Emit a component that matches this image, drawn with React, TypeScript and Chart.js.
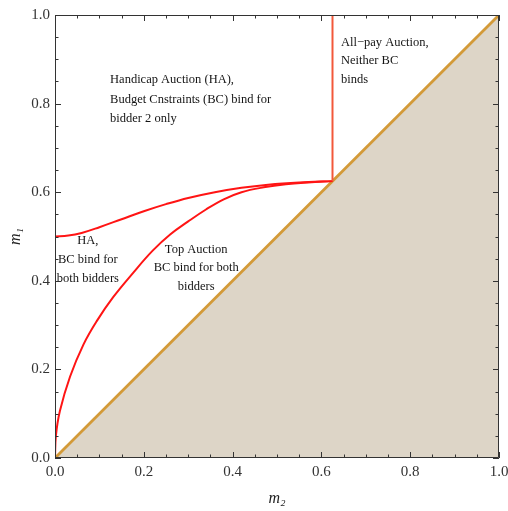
import React, { useEffect, useRef } from 'react';
import { Chart, registerables } from 'chart.js';

Chart.register(...registerables);

// ---- data (m2 on x, m1 on y) ----
const diagonalM2 = [0, 1];
const diagonalM1 = [0, 1];
const upperM2 = [0, 0.03, 0.06, 0.1, 0.15, 0.2, 0.25, 0.3, 0.36, 0.42, 0.48, 0.55, 0.625];
const upperM1 = [0.5, 0.502, 0.508, 0.521, 0.539, 0.557, 0.573, 0.587, 0.6, 0.61, 0.617, 0.622, 0.625];
const lowerM2 = [0, 0.002, 0.011, 0.034, 0.064, 0.094, 0.131, 0.176, 0.22, 0.26, 0.3, 0.34, 0.38, 0.42, 0.47, 0.52, 0.57, 0.625];
const lowerM1 = [0, 0.05, 0.106, 0.184, 0.256, 0.309, 0.363, 0.418, 0.468, 0.505, 0.534, 0.561, 0.584, 0.6, 0.611, 0.618, 0.622, 0.625];
const verticalM2 = [0.625, 0.625];
const verticalM1 = [0.625, 1];
const axisMin = 0;
const axisMax = 1;
const majorStep = 0.2;
const minorStep = 0.05;
const xTitle = 'm₂';
const yTitle = 'm₁';

const noteHandicap = ['Handicap Auction (HA),', 'Budget Cnstraints (BC) bind for', 'bidder 2 only'];
const noteHA = ['HA,', 'BC bind for', 'both bidders'];
const noteTop = ['Top Auction', 'BC bind for both', 'bidders'];
const noteAllPay = ['All−pay Auction,', 'Neither BC', 'binds'];

const notes = [
  { lines: noteHandicap, m2: 0.124, m1: 0.853, align: 'left', spacing: 19.5 },
  { lines: noteHA, m2: 0.074, m1: 0.49, align: 'center', spacing: 19 },
  { lines: noteTop, m2: 0.318, m1: 0.471, align: 'center', spacing: 18.5 },
  { lines: noteAllPay, m2: 0.644, m1: 0.9375, align: 'left', spacing: 18.5 },
];

const zip = (xs: number[], ys: number[]) => xs.map((x, i) => ({ x, y: ys[i] }));

const SERIF = '"Liberation Serif", "Times New Roman", serif';

const framePlugin = {
  id: 'frameTicks',
  afterDatasetsDraw(chart: any) {
    const { ctx, scales } = chart;
    const x = scales.x;
    const y = scales.y;
    ctx.save();
    ctx.font = `12.5px ${SERIF}`;
    ctx.fillStyle = '#141414';
    ctx.textBaseline = 'middle';
    for (const n of notes) {
      ctx.textAlign = n.align as CanvasTextAlign;
      const px = x.getPixelForValue(n.m2);
      const py = y.getPixelForValue(n.m1);
      n.lines.forEach((t, i) => ctx.fillText(t, px, py + i * n.spacing));
    }
    ctx.restore();
  },
  afterDraw(chart: any) {
    const { ctx, chartArea: a, scales } = chart;
    const x = scales.x;
    const y = scales.y;
    ctx.save();
    ctx.strokeStyle = '#333';
    ctx.lineWidth = 1;
    ctx.beginPath();
    ctx.rect(Math.round(a.left) + 0.5, Math.round(a.top) + 0.5, Math.round(a.right - a.left) - 1, Math.round(a.bottom - a.top) - 1);
    ctx.stroke();
    const n = Math.round((axisMax - axisMin) / minorStep);
    const per = Math.round(majorStep / minorStep);
    ctx.beginPath();
    for (let i = 0; i <= n; i++) {
      const v = axisMin + i * minorStep;
      const len = i % per === 0 ? 6 : 3.5;
      const px = Math.round(x.getPixelForValue(v)) + 0.5;
      const py = Math.round(y.getPixelForValue(v)) + 0.5;
      ctx.moveTo(px, a.bottom);
      ctx.lineTo(px, a.bottom - len);
      ctx.moveTo(px, a.top);
      ctx.lineTo(px, a.top + len);
      ctx.moveTo(a.left, py);
      ctx.lineTo(a.left + len, py);
      ctx.moveTo(a.right, py);
      ctx.lineTo(a.right - len, py);
    }
    ctx.stroke();
    ctx.restore();
  },
};

export default function App() {
  const ref = useRef<HTMLCanvasElement>(null);
  useEffect(() => {
    if (!ref.current) return;
    const chart = new Chart(ref.current, {
      type: 'scatter',
      data: {
        datasets: [
          {
            label: 'diagonal',
            data: zip(diagonalM2, diagonalM1),
            showLine: true,
            borderColor: '#d39a38',
            borderWidth: 2.8,
            backgroundColor: '#ddd5c7',
            fill: 'origin',
            pointRadius: 0,
            order: 3,
          },
          {
            label: 'upper',
            data: zip(upperM2, upperM1),
            showLine: true,
            borderColor: '#ff1414',
            borderWidth: 2,
            pointRadius: 0,
            tension: 0.4,
            fill: false,
            order: 2,
          },
          {
            label: 'lower',
            data: zip(lowerM2, lowerM1),
            showLine: true,
            borderColor: '#ff1414',
            borderWidth: 2,
            pointRadius: 0,
            tension: 0.4,
            fill: false,
            order: 2,
          },
          {
            label: 'vertical',
            data: zip(verticalM2, verticalM1),
            showLine: true,
            borderColor: '#f2583a',
            borderWidth: 2,
            pointRadius: 0,
            fill: false,
            order: 1,
          },
        ],
      },
      options: {
        responsive: false,
        animation: false,
        devicePixelRatio: 1,
        layout: { padding: { top: 15, right: 9, left: 0, bottom: 0 } },
        plugins: { legend: { display: false }, tooltip: { enabled: false } },
        scales: {
          x: {
            type: 'linear',
            min: axisMin,
            max: axisMax,
            grid: { display: false, drawTicks: false },
            border: { display: false },
            ticks: {
              stepSize: majorStep,
              padding: 5,
              color: '#333',
              font: { family: SERIF, size: 15 },
              callback: (v: any) => Number(v).toFixed(1),
              maxRotation: 0,
            },
            title: {
              display: true,
              text: xTitle,
              color: '#222',
              font: { family: SERIF, size: 16, style: 'italic' },
              padding: { top: 0, bottom: 3 },
            },
            afterFit: (s: any) => {
              s.height = 53;
              s.paddingLeft = 0;
              s.paddingRight = 0;
            },
          },
          y: {
            type: 'linear',
            min: axisMin,
            max: axisMax,
            grid: { display: false, drawTicks: false },
            border: { display: false },
            ticks: {
              stepSize: majorStep,
              padding: 5,
              color: '#333',
              font: { family: SERIF, size: 15 },
              callback: (v: any) => Number(v).toFixed(1),
            },
            title: {
              display: true,
              text: yTitle,
              color: '#222',
              font: { family: SERIF, size: 16, style: 'italic' },
              padding: { top: 6, bottom: 0 },
            },
            afterFit: (s: any) => {
              s.width = 55;
              s.paddingTop = 0;
              s.paddingBottom = 0;
            },
          },
        },
      },
      plugins: [framePlugin],
    } as any);
    return () => chart.destroy();
  }, []);
  return (
    <div style={{ position: 'fixed', left: 0, top: 0, width: 508, height: 511, background: '#fff' }}>
      <canvas ref={ref} width={508} height={511} />
    </div>
  );
}
